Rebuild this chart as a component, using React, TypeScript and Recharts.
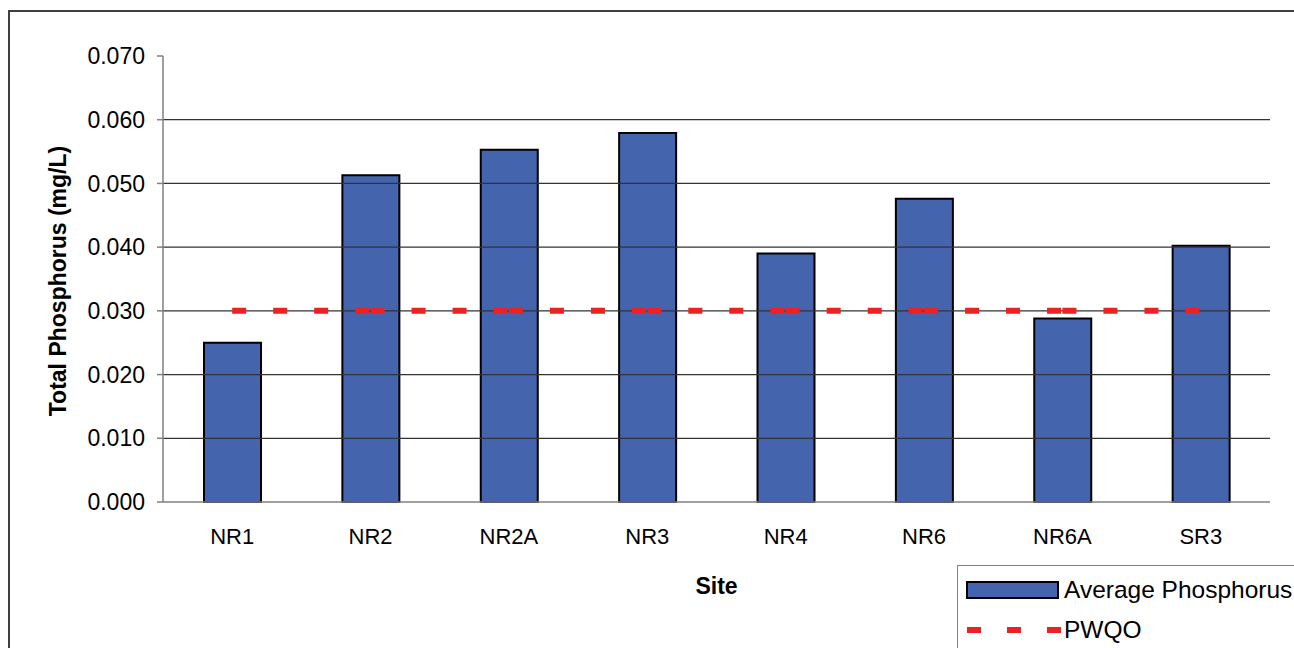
import { ComposedChart, Bar, Line, XAxis, YAxis, ReferenceLine } from 'recharts';

const sites = ['NR1', 'NR2', 'NR2A', 'NR3', 'NR4', 'NR6', 'NR6A', 'SR3'];
const avgPhosphorus = [0.025, 0.0513, 0.0553, 0.0579, 0.039, 0.0476, 0.0288, 0.0402];
const pwqo = [0.03, 0.03, 0.03, 0.03, 0.03, 0.03, 0.03, 0.03];
const yTicks = [0, 0.01, 0.02, 0.03, 0.04, 0.05, 0.06, 0.07];
const gridLines = [0.01, 0.02, 0.03, 0.04, 0.05, 0.06];
const siteEdges = [0, 1, 2, 3, 4, 5, 6, 7, 8];

const data = sites.map((site, i) => ({ site, avg: avgPhosphorus[i], pwqo: pwqo[i] }));

const FONT = '"Liberation Sans", Arial, sans-serif';
const BAR_FILL = '#4465AD';
const RED = '#ED2024';

export default function App() {
  return (
    <div style={{ position: 'absolute', left: 0, top: 0, width: 1294, height: 648, overflow: 'hidden', background: '#fff', fontFamily: FONT }}>
      {/* outer chart area border */}
      <div style={{ position: 'absolute', left: 8, top: 10, width: 1400, height: 800, borderLeft: '2px solid #404040', borderTop: '2px solid #404040' }} />

      <div style={{ position: 'absolute', left: 0, top: 0 }}>
        <ComposedChart width={1294} height={648} data={data} margin={{ top: 56, right: 24, bottom: 144, left: 0 }} barSize={57}>
          <XAxis
            dataKey="site"
            height={1}
            tickLine={false}
            tickSize={0}
            tickMargin={26}
            axisLine={{ stroke: '#808080', strokeWidth: 1.5 }}
            tick={{ fill: '#000', fontSize: 22, fontFamily: FONT }}
            interval={0}
            label={({ viewBox }: any) => (
              <text x={viewBox.x + viewBox.width / 2} y={viewBox.y + 92} textAnchor="middle" fontSize={23} fontWeight="bold" fontFamily={FONT} fill="#000">
                Site
              </text>
            )}
          />
          <XAxis
            xAxisId="edges"
            type="number"
            domain={[0, 8]}
            ticks={siteEdges}
            height={1}
            axisLine={false}
            tick={false}
            tickSize={6}
            tickLine={{ stroke: '#808080', strokeWidth: 1.5 }}
          />
          <YAxis
            width={163}
            domain={[0, 0.07]}
            ticks={yTicks}
            tickFormatter={(v: number) => v.toFixed(3)}
            tickSize={6}
            tickMargin={12}
            tickLine={{ stroke: '#808080', strokeWidth: 1.5 }}
            axisLine={{ stroke: '#808080', strokeWidth: 1.5 }}
            tick={{ fill: '#000', fontSize: 23, fontFamily: FONT }}
            label={({ viewBox }: any) => {
              const cx = viewBox.x + 58;
              const cy = viewBox.y + viewBox.height / 2 + 2;
              return (
                <text x={cx} y={cy} transform={`rotate(-90 ${cx} ${cy})`} textAnchor="middle" dominantBaseline="central" fontSize={23} fontWeight="bold" fontFamily={FONT} fill="#000">
                  Total Phosphorus (mg/L)
                </text>
              );
            }}
          />
          {gridLines.map((v) => (
            <ReferenceLine key={v} y={v} stroke="#333" strokeWidth={1.2} />
          ))}
          <Bar dataKey="avg" fill={BAR_FILL} stroke="#000" strokeWidth={2} isAnimationActive={false} />
          <Line
            dataKey="pwqo"
            stroke={RED}
            strokeWidth={6}
            strokeDasharray="14 27 14 27 14 27 14 1.375"
            strokeLinecap="butt"
            dot={false}
            activeDot={false}
            type="linear"
            isAnimationActive={false}
          />
        </ComposedChart>
      </div>

      {/* legend */}
      <div style={{ position: 'absolute', left: 957, top: 565, width: 400, height: 120, borderLeft: '1px solid #808080', borderTop: '1px solid #808080', background: '#fff' }}>
        <svg width={110} height={90} style={{ position: 'absolute', left: 0, top: 0 }}>
          <rect x={9} y={16} width={91} height={16} fill={BAR_FILL} stroke="#000" strokeWidth={2} />
          <line x1={9} y1={64} x2={103} y2={64} stroke={RED} strokeWidth={6} strokeDasharray="14 26" />
        </svg>
        <div style={{ position: 'absolute', left: 106, top: 8, fontSize: 24.5, lineHeight: '32px', whiteSpace: 'nowrap', color: '#000' }}>Average Phosphorus</div>
        <div style={{ position: 'absolute', left: 106, top: 48, fontSize: 24.5, lineHeight: '32px', whiteSpace: 'nowrap', color: '#000' }}>PWQO</div>
      </div>
    </div>
  );
}
